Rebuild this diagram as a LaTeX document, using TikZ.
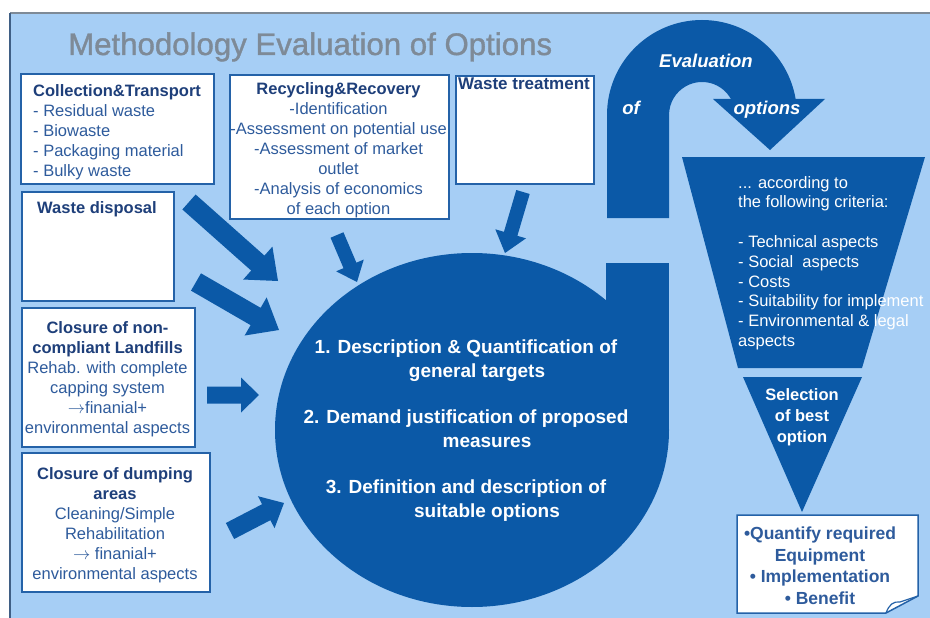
\documentclass[tikz,border=0pt]{standalone}
\usepackage{fontspec}
\setmainfont{Liberation Sans}
\newfontfamily\titlefont[FakeBold=1.2]{Liberation Sans}
\usetikzlibrary{calc}
\definecolor{bgblue}{HTML}{A6CEF5}
\definecolor{dkblue}{HTML}{0B59A7}
\definecolor{boxline}{HTML}{2462A8}
\definecolor{headtxt}{HTML}{1E3F7A}
\definecolor{itemtxt}{HTML}{2E5B9C}
\definecolor{titlegrey}{HTML}{7E8A97}
\definecolor{frameline}{HTML}{3F5F85}
\newcommand\blockarrow[5]{%
  \coordinate (bab) at ($(#2)!#5!(#1)$);
  \fill[dkblue] ($(#1)!#3!90:(#2)$) -- ($(bab)!#3!90:(#2)$) -- ($(bab)!#4!90:(#2)$) -- (#2) -- ($(bab)!#4!-90:(#2)$) -- ($(bab)!#3!-90:(#2)$) -- ($(#1)!#3!-90:(#2)$) -- cycle;
}
\tikzset{
  box/.style={draw=boxline, line width=2pt, fill=white, anchor=north west, inner sep=0pt},
  boxtext/.style={inner sep=0pt, text=itemtxt, font=\fontsize{16.5}{20}\selectfont},
  whitetext/.style={inner sep=0pt, text=white, font=\fontsize{16.5}{19.8}\selectfont},
  circtext/.style={inner sep=0pt, anchor=base, text=white, font=\fontsize{19}{24}\selectfont\bfseries},
  evaltext/.style={inner sep=0pt, anchor=base, text=white, font=\fontsize{18.5}{22}\selectfont\bfseries\itshape},
}
\begin{document}
\begin{tikzpicture}[x=1pt,y=-1pt]
\useasboundingbox (0,0) rectangle (930,618);
\fill[white] (0,0) rectangle (930,618);
\fill[bgblue] (10,13) rectangle (930,618);
\draw[titlegrey, line width=2pt] (10,13) -- (930,13);
\draw[frameline, line width=2pt] (10,13) -- (10,618);

% title
\node[inner sep=0pt, anchor=base west, text=titlegrey, font=\titlefont\fontsize{31.2}{36}\selectfont] (title) at (68,55) {Methodology Evaluation of Options};

% central shape
\fill[dkblue] (472,430) ellipse [x radius=197, y radius=177];
\fill[dkblue] (606,263) rectangle (669,430);

% U arrow
\fill[dkblue] (607,218) -- (607,115) arc[start angle=180, end angle=350.3, radius=95]
  -- (730.9,99) arc[start angle=331, end angle=180, radius=33] -- (669,218) -- cycle;
\fill[dkblue] (713,99) -- (825,99) -- (770,150) -- cycle;

% funnel
\fill[dkblue] (682,157) -- (925,157) -- (862,368) -- (738,368) -- cycle;
\fill[dkblue] (743,377) -- (862,377) -- (802,512) -- cycle;

% boxes
\node[box, minimum width=193, minimum height=110] (ct) at (20,73) {};
\node[box, minimum width=219, minimum height=144] (rr) at (229,74) {};
\node[box, minimum width=138, minimum height=108] (wt) at (455,75) {};
\node[box, minimum width=152, minimum height=109] (wd) at (21,191) {};
\node[box, minimum width=173, minimum height=139] (cl) at (21,307) {};
\node[box, minimum width=188, minimum height=139] (cd) at (21,452) {};
\draw[draw=boxline, line width=1.5pt, fill=white] (737,515) -- (918,515) -- (918,596) -- (886,613) -- (737,613) -- cycle;
\draw[boxline, line width=1.2pt] (886,613) .. controls (889,605) and (893,601) .. (900,602) -- (918,596);

% box texts
\node[boxtext, anchor=north west, align=left] (cttxt) at (33,84)
  {{\color{headtxt}\bfseries Collection\&Transport}\\- Residual waste\\- Biowaste\\- Packaging material\\- Bulky waste};
\node[boxtext, anchor=north, align=center] (rrtxt) at (338.5,82)
  {{\color{headtxt}\bfseries Recycling\&Recovery}\\-Identification\\-Assessment on potential use\\-Assessment of market\\outlet\\-Analysis of economics\\of each option};
\node[boxtext, anchor=north west, text=headtxt, font=\fontsize{17}{20}\selectfont\bfseries] (wttxt) at (458,78) {Waste treatment};
\node[boxtext, anchor=north, text=headtxt, font=\fontsize{16.5}{20}\selectfont\bfseries] (wdtxt) at (97,201) {Waste disposal};
\node[boxtext, anchor=north, align=center] (cltxt) at (107.5,321)
  {{\color{headtxt}\bfseries Closure of non-}\\{\color{headtxt}\bfseries compliant Landfills}\\Rehab. with complete\\capping system\\$\rightarrow$finanial+\\environmental aspects};
\node[boxtext, anchor=north, align=center] (cdtxt) at (115,467)
  {{\color{headtxt}\bfseries Closure of dumping}\\{\color{headtxt}\bfseries areas}\\Cleaning/Simple\\Rehabilitation\\$\rightarrow$ finanial+\\environmental aspects};
\node[inner sep=0pt, anchor=north, align=center, text=itemtxt, font=\fontsize{17.5}{21.5}\selectfont\bfseries] (fbtxt) at (820,527)
  {\textbullet Quantify required\\Equipment\\\textbullet{} Implementation\\\textbullet{} Benefit};

% arrows
\coordinate (a1t) at (189,202); \coordinate (a1h) at (278,281);
\coordinate (a2t) at (196,282); \coordinate (a2h) at (279,330);
\coordinate (a3t) at (207,395); \coordinate (a3h) at (259,395);
\coordinate (a4t) at (230,531); \coordinate (a4h) at (284,503);
\coordinate (a5t) at (337,235); \coordinate (a5h) at (357,282);
\coordinate (a6t) at (523,192); \coordinate (a6h) at (505,253);
\blockarrow{a1t}{a1h}{10pt}{22pt}{27pt}
\blockarrow{a2t}{a2h}{10pt}{22pt}{27pt}
\blockarrow{a3t}{a3h}{8.5pt}{17.5pt}{18pt}
\blockarrow{a4t}{a4h}{9pt}{18pt}{20pt}
\blockarrow{a5t}{a5h}{7pt}{15pt}{18pt}
\blockarrow{a6t}{a6h}{7pt}{16pt}{20pt}

% circle texts
\node[circtext] (c1a) at (466,353) {1. Description \& Quantification of};
\node[circtext] (c1b) at (477,377) {general targets};
\node[circtext] (c2a) at (466,423) {2. Demand justification of proposed};
\node[circtext] (c2b) at (487,447) {measures};
\node[circtext] (c3a) at (466,493) {3. Definition and description of};
\node[circtext] (c3b) at (487,517) {suitable options};

% evaluation texts
\node[evaltext] (ev1) at (706,68) {Evaluation};
\node[evaltext] (ev2) at (631,114) {of};
\node[evaltext] (ev3) at (767,114) {options};

% funnel texts
\node[whitetext, anchor=north west, align=left] (crit) at (738,176)
  {... according to\\the following criteria:\\[19.8pt]- Technical aspects\\- Social\ \ aspects\\- Costs\\- Suitability for implement\\- Environmental \& legal\\aspects};
\node[whitetext, anchor=north, align=center, font=\fontsize{16.5}{21}\selectfont\bfseries] (sel) at (802,388)
  {Selection\\of best\\option};
\end{tikzpicture}
\end{document}
